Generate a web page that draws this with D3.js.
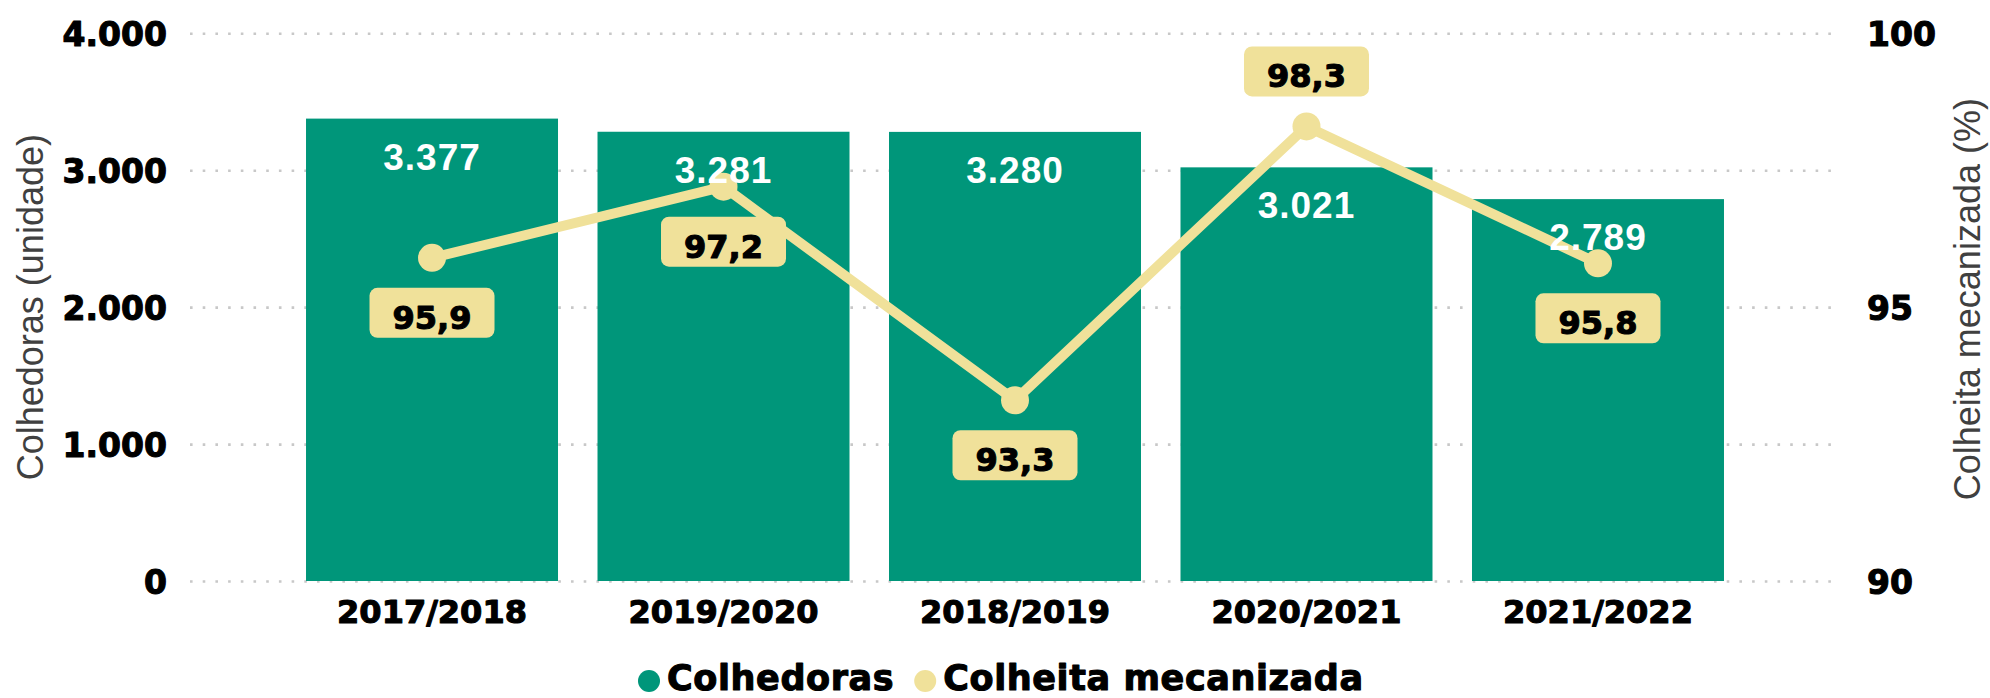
<!DOCTYPE html>
<html>
<head>
<meta charset="utf-8">
<script src="https://cdn.jsdelivr.net/npm/d3@7"></script>
<style>
  html, body { margin: 0; padding: 0; background: #ffffff; }
  svg { display: block; }
</style>
</head>
<body>
<svg id="chart" width="1990" height="698"></svg>
<script>
// ---- data ----
const categories = ["2017/2018", "2019/2020", "2018/2019", "2020/2021", "2021/2022"];
const colhedoras = [3377, 3281, 3280, 3021, 2789];
const colheitaMecanizada = [95.9, 97.2, 93.3, 98.3, 95.8];
const leftTicks = [0, 1000, 2000, 3000, 4000];
const rightTicks = [90, 95, 100];
const legendLabels = ["Colhedoras", "Colheita mecanizada"];

// ---- layout / style config ----
const W = 1990, H = 698;
const plot = { left: 190, right: 1840, top: 33.3, bottom: 581 };
const GREEN = "#00967A", YELLOW = "#F0E19A";
const HEAVY = "'DejaVu Sans', sans-serif";
const ARIAL = "'Liberation Sans', Arial, sans-serif";
// label box placement relative to point: +1 below, -1 above
const boxSide = [1, 1, 1, -1, 1];

const loc = d3.formatLocale({ decimal: ",", thousands: ".", grouping: [3], currency: ["R$", ""] });
const fmtInt = loc.format(",d");
const fmtDec = loc.format(",.1f");

const svg = d3.select("#chart");

const x = d3.scaleBand().domain(categories).range([plot.left, plot.right])
  .paddingInner(0.1355).paddingOuter(0.398);
const yL = d3.scaleLinear().domain([0, 4000]).range([plot.bottom, plot.top]);
const yR = d3.scaleLinear().domain([90, 100]).range([plot.bottom, plot.top]);

// heavy text helper (thickens DejaVu Sans Bold towards a black weight)
function heavy(sel, size, color) {
  sel.attr("font-family", HEAVY).attr("font-weight", "bold").attr("font-size", size)
    .attr("fill", color).attr("stroke", color).attr("stroke-width", 1.1)
    .attr("stroke-linejoin", "round");
}

// gridlines
const grid = svg.append("g").attr("transform", `translate(${plot.left},0)`)
  .call(d3.axisLeft(yL).tickValues(leftTicks).tickSize(-(plot.right - plot.left)).tickFormat(""));
grid.select(".domain").remove();
grid.selectAll(".tick line").attr("stroke", "#c8c8c8").attr("stroke-width", 2.6)
  .attr("stroke-dasharray", "2.6 10.1");

// bars
svg.append("g").selectAll("rect").data(colhedoras).join("rect")
  .attr("x", (d, i) => x(categories[i]))
  .attr("width", x.bandwidth())
  .attr("y", d => yL(d))
  .attr("height", d => yL(0) - yL(d))
  .attr("fill", GREEN);

// line
const cx = i => x(categories[i]) + x.bandwidth() / 2;
const line = d3.line().x((d, i) => cx(i)).y(d => yR(d));
svg.append("path").datum(colheitaMecanizada)
  .attr("d", line).attr("fill", "none").attr("stroke", YELLOW)
  .attr("stroke-width", 10).attr("stroke-linejoin", "round");
svg.append("g").selectAll("circle").data(colheitaMecanizada).join("circle")
  .attr("cx", (d, i) => cx(i)).attr("cy", d => yR(d)).attr("r", 14).attr("fill", YELLOW);

// bar labels
svg.append("g").selectAll("text").data(colhedoras).join("text")
  .attr("x", (d, i) => cx(i))
  .attr("y", d => yL(d) + 51)
  .attr("text-anchor", "middle")
  .attr("font-family", ARIAL).attr("font-weight", "bold").attr("font-size", 37)
  .attr("letter-spacing", 1)
  .attr("fill", "#ffffff")
  .text(d => fmtInt(d));

// point label boxes
const boxG = svg.append("g").selectAll("g").data(colheitaMecanizada).join("g")
  .attr("transform", (d, i) => `translate(${cx(i)},${yR(d) + boxSide[i] * 55})`);
boxG.append("rect").attr("x", -62.5).attr("y", -25).attr("width", 125).attr("height", 50)
  .attr("rx", 8).attr("fill", YELLOW);
boxG.append("text").attr("text-anchor", "middle").attr("y", 16)
  .call(heavy, 32, "#000").text(d => fmtDec(d));

// left axis
const axL = svg.append("g").attr("transform", "translate(167,0)")
  .call(d3.axisLeft(yL).tickValues(leftTicks).tickSize(0).tickPadding(0).tickFormat(fmtInt));
axL.select(".domain").remove();
axL.selectAll("text").attr("dy", null).attr("y", 12).attr("x", 0).call(heavy, 33, "#000");

// right axis
const axR = svg.append("g").attr("transform", "translate(1867,0)")
  .call(d3.axisRight(yR).tickValues(rightTicks).tickSize(0).tickPadding(0).tickFormat(d3.format("d")));
axR.select(".domain").remove();
axR.selectAll("text").attr("dy", null).attr("y", 12).attr("x", 0).call(heavy, 33, "#000");

// bottom axis
const axB = svg.append("g").attr("transform", "translate(0,623)")
  .call(d3.axisBottom(x).tickSize(0).tickPadding(0));
axB.select(".domain").remove();
axB.selectAll("text").attr("dy", null).attr("y", 0).call(heavy, 32, "#000");

// axis titles
svg.append("text").attr("transform", `translate(43,${(plot.top + plot.bottom) / 2}) rotate(-90)`)
  .attr("text-anchor", "middle").attr("font-family", ARIAL).attr("font-size", 36).attr("fill", "#404040")
  .text("Colhedoras (unidade)");
svg.append("text").attr("transform", `translate(1980,${(plot.top + plot.bottom) / 2 - 8}) rotate(-90)`)
  .attr("text-anchor", "middle").attr("font-family", ARIAL).attr("font-size", 36).attr("fill", "#404040")
  .text("Colheita mecanizada (%)");

// legend
const legColors = [GREEN, YELLOW];
let lx = 638;
legendLabels.forEach((lab, i) => {
  svg.append("circle").attr("cx", lx + 11).attr("cy", 681).attr("r", 11).attr("fill", legColors[i]);
  const t = svg.append("text").attr("x", lx + 29).attr("y", 690).call(heavy, 35, "#000")
    .attr("letter-spacing", 0.6).text(lab);
  lx = lx + 29 + t.node().getComputedTextLength() + 20;
});
</script>
</body>
</html>
